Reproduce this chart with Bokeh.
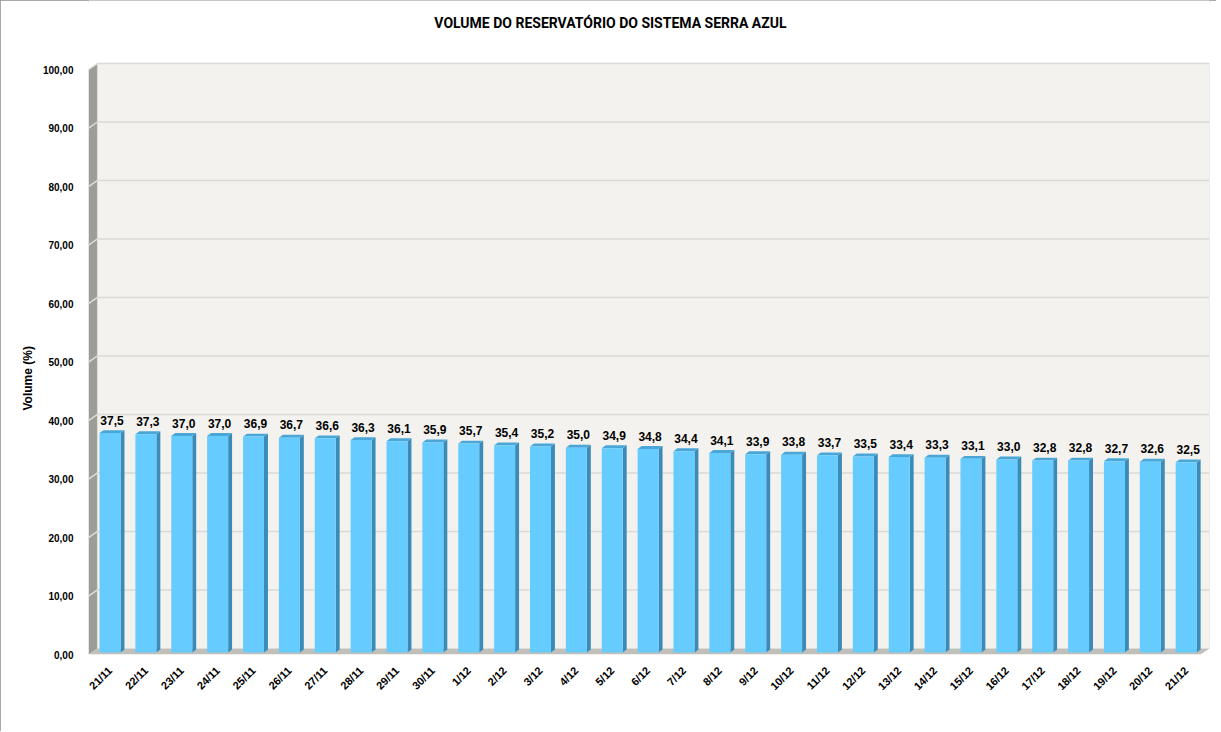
import math
from bokeh.plotting import figure
from bokeh.models import Range1d, FixedTicker, Title
from bokeh.embed import file_html
from bokeh.resources import INLINE
from bokeh.core.properties import value

# ---- data ----
dates = ["21/11", "22/11", "23/11", "24/11", "25/11", "26/11", "27/11", "28/11", "29/11", "30/11",
         "1/12", "2/12", "3/12", "4/12", "5/12", "6/12", "7/12", "8/12", "9/12", "10/12",
         "11/12", "12/12", "13/12", "14/12", "15/12", "16/12", "17/12", "18/12", "19/12", "20/12", "21/12"]
volumes = [37.5, 37.3, 37.0, 37.0, 36.9, 36.7, 36.6, 36.3, 36.1, 35.9,
           35.7, 35.4, 35.2, 35.0, 34.9, 34.8, 34.4, 34.1, 33.9, 33.8,
           33.7, 33.5, 33.4, 33.3, 33.1, 33.0, 32.8, 32.8, 32.7, 32.6, 32.5]
y_ticks = [0, 10, 20, 30, 40, 50, 60, 70, 80, 90, 100]
y_tick_labels = ["0,00", "10,00", "20,00", "30,00", "40,00", "50,00", "60,00", "70,00", "80,00", "90,00", "100,00"]
title_text = "VOLUME DO RESERVATÓRIO DO SISTEMA SERRA AZUL"
y_label = "Volume (%)"

# ---- 3D geometry (data units) ----
N = len(dates)
DX, DY = 0.25, 1.03      # wall depth
OX, OY = 0.10, 0.35      # bar front-face offset from front plane
BW = 0.585               # bar width
BDX, BDY = 0.11, 0.5     # bar depth
YMAX = 100
Y_TOP = 111.8            # room above the walls for the title

p = figure(width=1216, height=731, output_backend="svg", toolbar_location=None, title=None,
           x_range=Range1d(0, N + DX), y_range=Range1d(0, Y_TOP),
           min_border_left=88, min_border_right=7, min_border_top=0, min_border_bottom=77)
p.background_fill_color = "white"
p.border_fill_color = "white"
p.outline_line_color = None
p.xgrid.visible = False
p.ygrid.visible = False
p.styles = {"outline": "2px solid #8c8c8c", "outline-offset": "-2px"}

# walls
p.patch([0, DX, DX, 0], [0, DY, YMAX + DY, YMAX], fill_color="#9d9c96", line_color=None)
p.patch([0, N, N + DX, DX], [0, 0, DY, DY], fill_color="#c0bfb9", line_color=None)
p.quad(left=DX, right=N + DX, bottom=DY, top=YMAX + DY, fill_color="#f3f2ee",
       line_color="#dcdcd8", line_width=1)

# gridlines
gv = y_ticks[1:]
p.segment(x0=[DX] * len(gv), y0=[v + DY for v in gv], x1=[N + DX] * len(gv), y1=[v + DY for v in gv],
          line_color="#d9d9d5", line_width=1.5)
p.segment(x0=[0] * len(gv), y0=gv, x1=[DX] * len(gv), y1=[v + DY for v in gv],
          line_color="#dededa", line_width=1.5)

# bars
lefts = [i + 0.5 + OX - BW / 2 for i in range(N)]
rights = [i + 0.5 + OX + BW / 2 for i in range(N)]
tops = [v + OY for v in volumes]
side_xs = [[r, r + BDX, r + BDX, r] for r in rights]
side_ys = [[OY, OY + BDY, t + BDY, t] for t in tops]
top_xs = [[l, r, r + BDX, l + BDX] for l, r in zip(lefts, rights)]
top_ys = [[t, t, t + BDY, t + BDY] for t in tops]
p.patches(side_xs, side_ys, fill_color="#3b8bb8", line_color=None)
p.patches(top_xs, top_ys, fill_color="#4aa6d6", line_color=None)
p.quad(left=lefts, right=rights, bottom=OY, top=tops, fill_color="#66ccff", line_color=None)

# data labels
p.text(x=[i + 0.5 + OX + BDX / 2 for i in range(N)], y=[v + 2.55 for v in volumes],
       text=[f"{v:.1f}".replace(".", ",") for v in volumes],
       text_font=value("Liberation Sans"), text_font_style="bold", text_font_size="12px",
       text_align="center", text_baseline="alphabetic", text_color="black")

# chart title (drawn in the empty band above the walls)
p.text(x=[14.55], y=[108.0], text=[title_text], text_font=value("Roboto"), text_font_style="bold",
       text_font_size="14px", text_align="center", text_baseline="middle", text_color="black")

# axes
p.yaxis.ticker = FixedTicker(ticks=y_ticks)
p.yaxis.major_label_overrides = {t: l for t, l in zip(y_ticks, y_tick_labels)}
p.yaxis.axis_line_color = None
p.yaxis.major_tick_line_color = None
p.yaxis.minor_tick_line_color = None
p.yaxis.major_label_standoff = 9
p.yaxis.major_label_text_font = "Liberation Sans"
p.yaxis.major_label_text_font_style = "bold"
p.yaxis.major_label_text_font_size = "10px"
p.yaxis.major_label_text_color = "black"

xt = [i + 0.6 for i in range(N)]
p.xaxis.ticker = FixedTicker(ticks=xt)
p.xaxis.major_label_overrides = {t: d for t, d in zip(xt, dates)}
p.xaxis.major_label_orientation = math.pi / 4
p.xaxis.axis_line_color = None
p.xaxis.major_tick_line_color = None
p.xaxis.minor_tick_line_color = None
p.xaxis.major_label_standoff = 8
p.xaxis.major_label_text_font = "Liberation Sans"
p.xaxis.major_label_text_font_style = "bold"
p.xaxis.major_label_text_font_size = "11px"
p.xaxis.major_label_text_color = "black"

# y axis title
p.add_layout(Title(text=y_label, align="left", offset=244, standoff=10, vertical_align="bottom",
                   text_font="Liberation Sans", text_font_style="bold", text_font_size="12px",
                   text_color="black"), "left")

open("out.html", "w").write(file_html(p, INLINE))
